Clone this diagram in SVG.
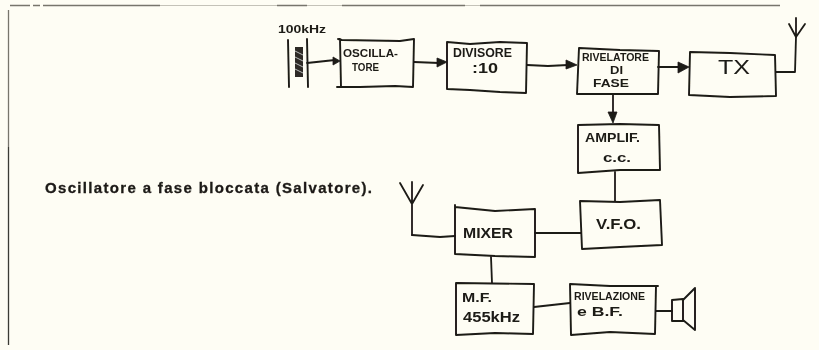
<svg xmlns="http://www.w3.org/2000/svg" width="819" height="350" viewBox="0 0 819 350">
<style>
.b{fill:none;stroke:#1c1a16;stroke-width:1.9;stroke-linejoin:round;stroke-linecap:round}
.c{fill:none;stroke:#1c1a16;stroke-width:1.8;stroke-linecap:round;stroke-linejoin:round}
.a{fill:#1c1a16;stroke:#1c1a16;stroke-width:.8;stroke-linejoin:round}
text{font-family:"Liberation Sans",Arial,sans-serif;fill:#1c1a16}
.s{font-size:10px;font-weight:bold}
.m{font-size:12px;font-weight:bold}
.l{font-size:15px;font-weight:bold}
.f{fill:none;stroke:#77756c;stroke-width:1.3}
.g{fill:none;stroke:#c4c2b8;stroke-width:1}
</style>
<defs><filter id="soft" x="-2%" y="-2%" width="104%" height="104%"><feGaussianBlur stdDeviation="0.35"/></filter></defs>
<rect width="819" height="350" fill="#fefdf4"/>
<g filter="url(#soft)">
<path class="g" d="M160 5.500H277M307 5.500H342M465 5.500H480"/>
<path class="f" d="M10 5.500H30M33 5.500H40M43 5.500H160M277 5.500H307M342 5.500H465M480 5.500H780"/>
<path class="f" d="M8.500 10V147"/>
<path d="M8.500 147V345" fill="none" stroke="#3b3a34" stroke-width="1.300"/>
<text x="45" y="193" class="l" stroke="#1c1a16" stroke-width=".3" textLength="327" lengthAdjust="spacing">Oscillatore a fase bloccata (Salvatore).</text>
<g id="connectors">
<path class="c" d="M307 63L335 60"/><path class="a" d="M340 61L333 57V65Z"/>
<path class="c" d="M414 62L439 63"/><path class="a" d="M447 62L437 58V67Z"/>
<path class="c" d="M527 65L548 66L568 65"/><path class="a" d="M577 65L566 60V69Z"/>
<path class="c" d="M658 67L680 67"/><path class="a" d="M689 67L678 62V73Z"/>
<path class="c" d="M613 94V114"/><path class="a" d="M613 123L608 112H617Z"/>
<path class="c" d="M615 172V201"/>
<path class="c" d="M535 233H581"/>
<path class="c" d="M491 257L492 283"/>
<path class="c" d="M534 307L570 303"/>
<path class="c" d="M656 311H672"/>
<path class="c" d="M412 235L440 237L455 236"/>
<path class="c" d="M776 72H795L796 37"/>
</g>
<g id="crystal">
<path class="b" d="M288 40L289 87M307 39L308 87"/>
<rect x="295" y="47" width="8" height="30" fill="#2e2c28"/>
<path d="M295 51L303 55M295 57L303 61M295 63L303 67M295 69L303 73" stroke="#bbb" stroke-width="1"/>
<text class="s" x="278" y="33" textLength="48" lengthAdjust="spacingAndGlyphs">100kHz</text>
</g>
<g id="oscillatore">
<path class="b" d="M338 39L342 40L400 41L414 39L413 87L395 86L360 87L337 87M340 39L341 87"/>
<text class="s" x="343" y="57" textLength="55" lengthAdjust="spacingAndGlyphs">OSCILLA-</text>
<text class="s" x="352" y="71" textLength="27" lengthAdjust="spacingAndGlyphs">TORE</text>
</g>
<g id="divisore">
<path class="b" d="M447 42L470 44L500 42L527 43L526 93L500 92L470 90L447 89Z"/>
<text class="m" x="453" y="57" textLength="59" lengthAdjust="spacingAndGlyphs">DIVISORE</text>
<text class="l" x="472" y="73" textLength="26" lengthAdjust="spacingAndGlyphs">:10</text>
</g>
<g id="rivelatore">
<path class="b" d="M579 48L620 50L659 51L658 94L620 94L577 94Z"/>
<text class="s" x="582" y="61" textLength="67" lengthAdjust="spacingAndGlyphs">RIVELATORE</text>
<text class="s" x="610" y="74" textLength="13" lengthAdjust="spacingAndGlyphs">DI</text>
<text class="s" x="593" y="87" textLength="36" lengthAdjust="spacingAndGlyphs">FASE</text>
</g>
<g id="tx">
<path class="b" d="M690 52L730 53L775 55L776 96L730 97L689 95Z"/>
<text x="718" y="74" font-size="20" textLength="32" lengthAdjust="spacingAndGlyphs">TX</text>
</g>
<g id="ant-tx">
<path class="c" d="M796 18V37M789 24L796 37L805 24"/>
</g>
<g id="amplif">
<path class="b" d="M578 125L620 124L659 125L660 170L620 170L578 173Z"/>
<text class="m" x="585" y="142" textLength="55" lengthAdjust="spacingAndGlyphs">AMPLIF.</text>
<text class="m" x="603" y="162" textLength="28" lengthAdjust="spacingAndGlyphs">c.c.</text>
</g>
<g id="vfo">
<path class="b" d="M580 201L620 202L660 200L662 245L620 247L582 249Z"/>
<text class="l" x="596" y="229" textLength="45" lengthAdjust="spacingAndGlyphs">V.F.O.</text>
</g>
<g id="mixer">
<path class="b" d="M455 205V207L475 209L495 211L535 209V257L495 256L455 254Z"/>
<text class="l" x="463" y="238" textLength="50" lengthAdjust="spacingAndGlyphs">MIXER</text>
</g>
<g id="mf">
<path class="b" d="M456 283L534 284L533 334L495 333L456 335Z"/>
<text class="m" x="462" y="302" textLength="30" lengthAdjust="spacingAndGlyphs">M.F.</text>
<text class="l" x="463" y="322" textLength="57" lengthAdjust="spacingAndGlyphs">455kHz</text>
</g>
<g id="rivelazione">
<path class="b" d="M570 284L610 286L658 286M656 286L655 334L610 332L571 335L570 284"/>
<text class="s" x="574" y="300" textLength="71" lengthAdjust="spacingAndGlyphs">RIVELAZIONE</text>
<text class="m" x="577" y="316" textLength="46" lengthAdjust="spacingAndGlyphs">e B.F.</text>
</g>
<g id="ant-rx">
<path class="c" d="M412 182V235M400 183L412 204L423 185"/>
</g>
<g id="speaker">
<path class="b" d="M672 300L683 299V321L672 321ZM683 300L695 288V330L683 320"/>
</g>
</g>
</svg>
